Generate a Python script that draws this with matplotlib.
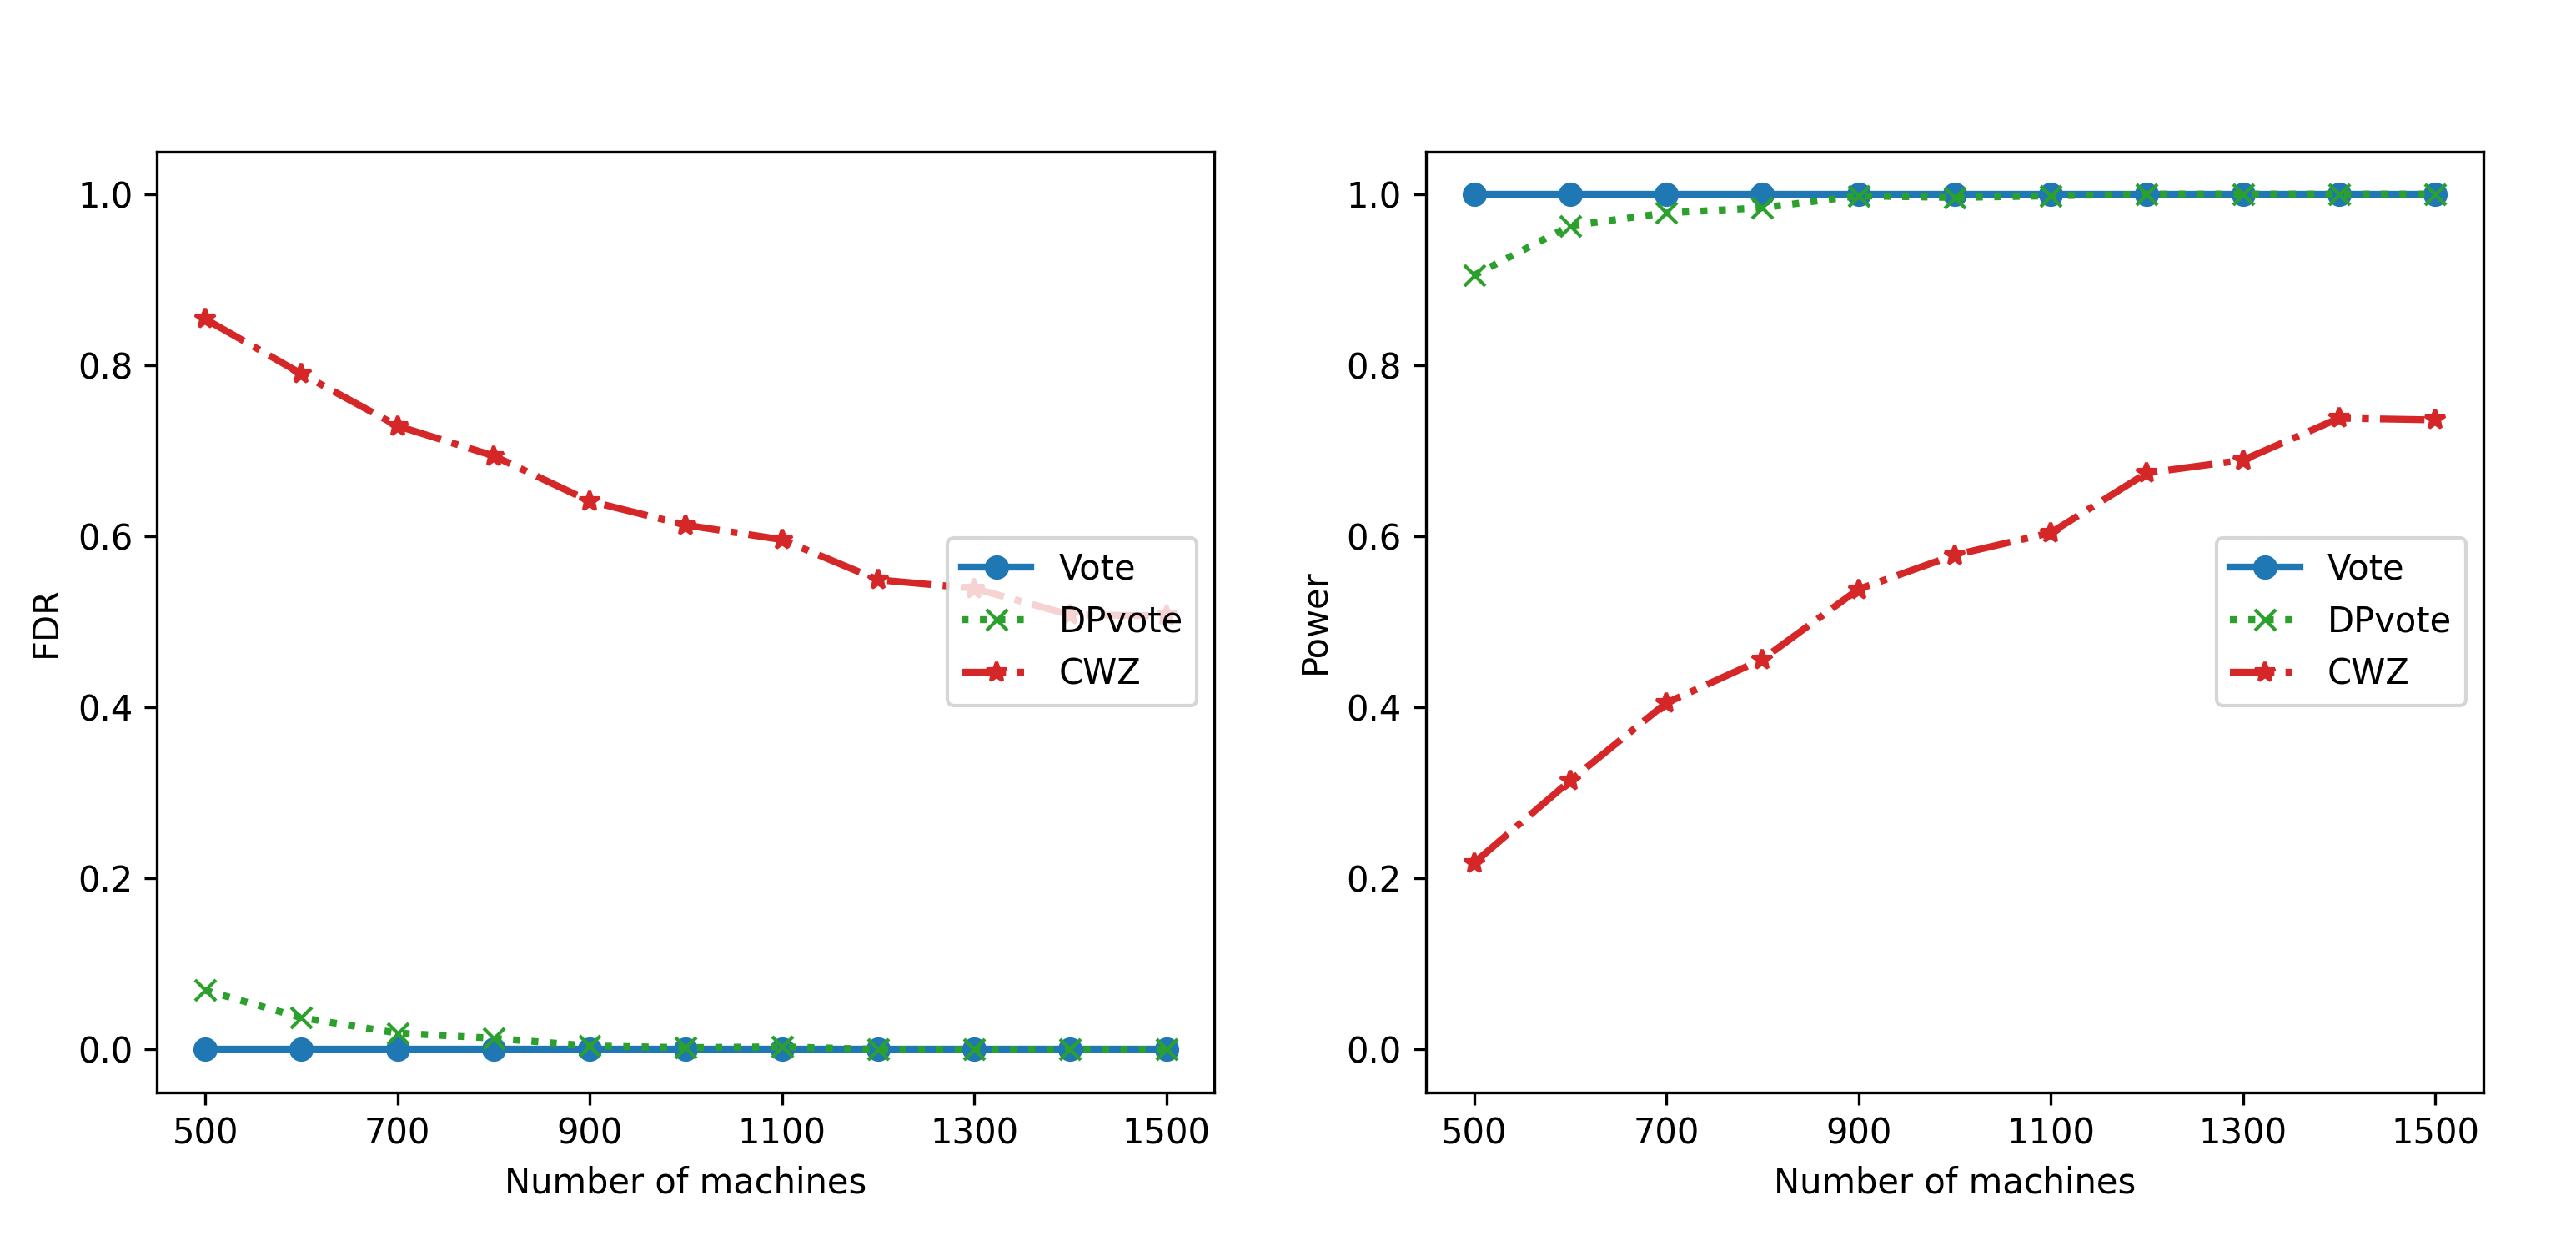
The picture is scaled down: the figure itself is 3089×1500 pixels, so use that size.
import matplotlib
matplotlib.use("Agg")
import matplotlib.pyplot as plt

machines = [500, 600, 700, 800, 900, 1000, 1100, 1200, 1300, 1400, 1500]
xticks = [500, 700, 900, 1100, 1300, 1500]

fdr_vote = [0.0] * 11
fdr_dpvote = [0.069, 0.037, 0.019, 0.013, 0.004, 0.002, 0.003, 0.0, 0.0, 0.0, 0.0]
fdr_cwz = [0.854, 0.790, 0.729, 0.694, 0.641, 0.613, 0.596, 0.549, 0.539, 0.508, 0.507]

power_vote = [1.0] * 11
power_dpvote = [0.905, 0.963, 0.978, 0.984, 0.998, 0.996, 0.998, 1.0, 1.0, 1.0, 1.0]
power_cwz = [0.218, 0.314, 0.405, 0.456, 0.538, 0.578, 0.604, 0.674, 0.689, 0.738, 0.736]

fig, axes = plt.subplots(1, 2, figsize=(3089 / 300, 1500 / 300), dpi=300)
fig.subplots_adjust(left=0.061, right=0.964, bottom=0.127, top=0.879, wspace=0.2)

panels = [
    (axes[0], fdr_vote, fdr_dpvote, fdr_cwz, "FDR"),
    (axes[1], power_vote, power_dpvote, power_cwz, "Power"),
]
for ax, v, d, c, lab in panels:
    ax.plot(machines, v, '-', marker='o', color='tab:blue', lw=2, label='Vote')
    ax.plot(machines, d, ':', marker='x', color='tab:green', lw=2, label='DPvote')
    ax.plot(machines, c, '-.', marker='*', color='tab:red', lw=2, label='CWZ')
    ax.set_xticks(xticks)
    ax.set_xlabel("Number of machines")
    ax.set_ylabel(lab)
    ax.set_ylim(-0.05, 1.05)
    ax.legend(loc='center right')

fig.savefig("out.png", dpi=300)
